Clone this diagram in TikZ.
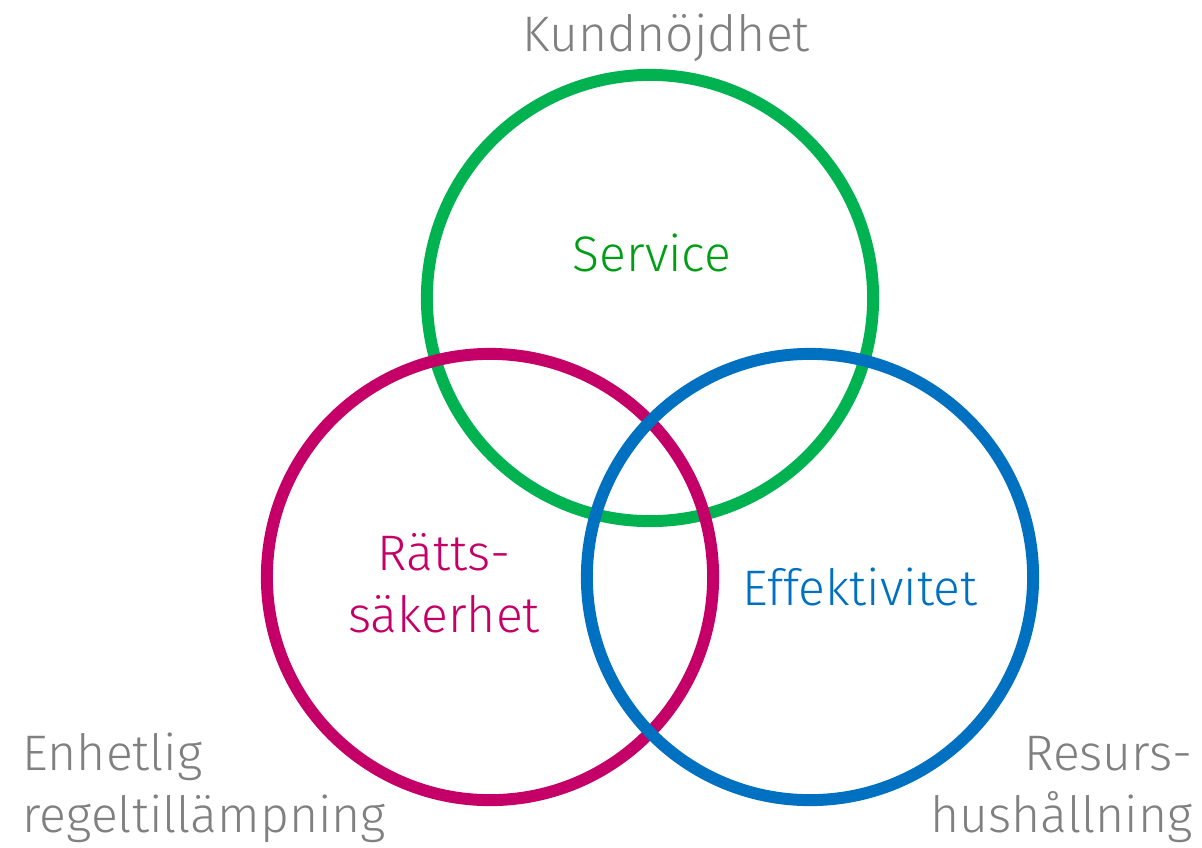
\documentclass[tikz,border=0pt]{standalone}
\usepackage{fontspec}
\setmainfont{Fira Sans Light}
\usetikzlibrary{positioning}

\definecolor{ringgreen}{RGB}{0,178,80}
\definecolor{textgreen}{RGB}{0,158,20}
\definecolor{ringred}{RGB}{196,0,104}
\definecolor{ringblue}{RGB}{0,112,192}
\definecolor{labelgray}{RGB}{128,128,128}

\tikzset{
  ring/.style={draw,circle,line width=3.4pt,minimum size=4.46cm,inner sep=0pt},
  word/.style={font=\fontsize{14.2}{17.6}\selectfont,inner sep=0pt}
}

\begin{document}
\begin{tikzpicture}[x=0.01cm,y=-0.01cm]
\useasboundingbox (0,0) rectangle (1202,847);

\node[ring,draw=ringgreen] (S) at (650,298) {};
\node[ring,draw=ringred] (R) at (490,577) {};
\node[ring,draw=ringblue] (E) at (810,577) {};

\node[word,textgreen,anchor=base] (SL) at (652,271) {Service};
\node[word,ringred,anchor=base,align=center] (RL) at (444,632) {Rätts-\\säkerhet};
\node[word,ringblue,anchor=base] (EL) at (860,605) {Effektivitet};

\node[word,labelgray,anchor=base] (K) at (666,51) {Kundnöjdhet};
\node[word,labelgray,anchor=base west,align=left] (EN) at (22,832) {Enhetlig\\regeltillämpning};
\node[word,labelgray,anchor=base east,align=right] (RH) at (1193,832) {Resurs-\\hushållning};
\end{tikzpicture}
\end{document}
